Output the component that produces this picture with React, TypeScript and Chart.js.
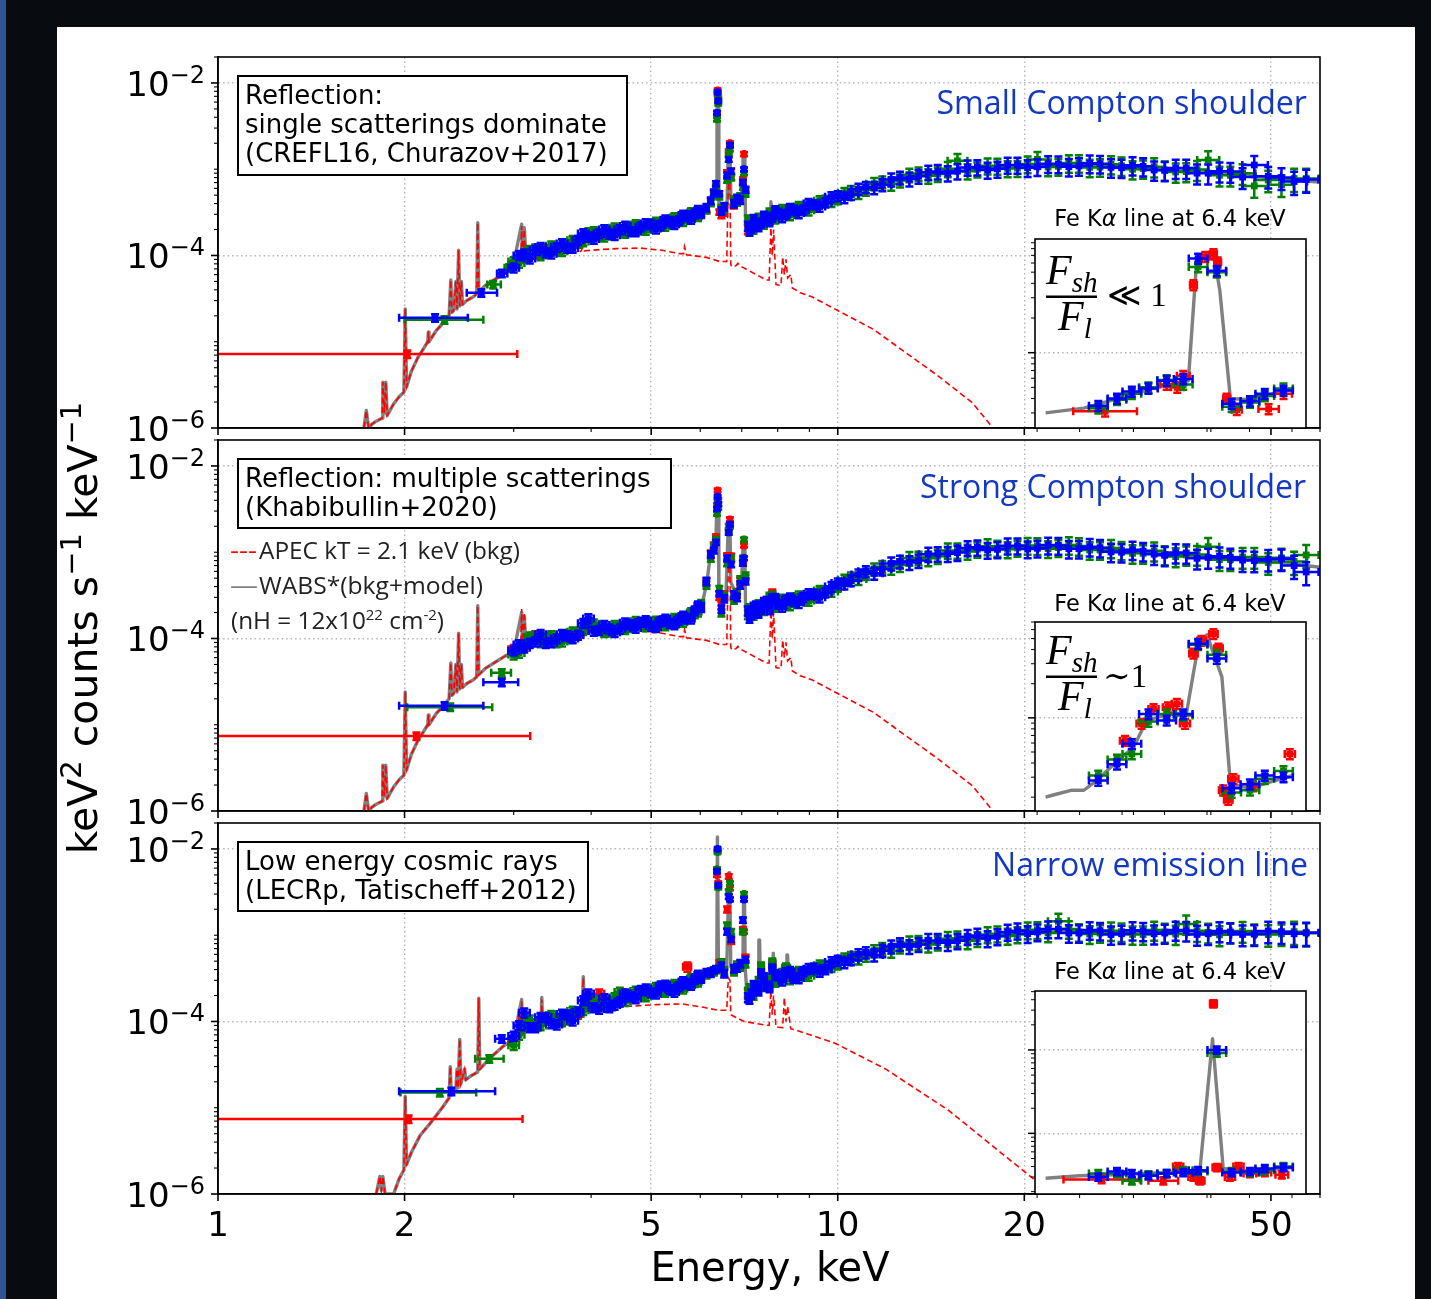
import React, { useEffect, useRef } from 'react';
import { Chart, registerables } from 'chart.js';

Chart.register(...registerables);

// ---------------- axis ticks ----------------
const X_LABELS = [1, 2, 5, 10, 20, 50];
const X_MINOR = [3, 4, 6, 7, 8, 9, 30, 40, 60];
const X_GRID = [2, 5, 10, 20, 50];
const Y_LABELS = [1e-2, 1e-4, 1e-6];
const Y_GRID = [1e-2, 1e-4];
const X_MIN = 1, X_MAX = 60, Y_MIN = 1e-6, Y_MAX = 0.02;
const INSET_X_TICKS = [6.0, 6.1, 6.2, 6.3, 6.4, 6.5, 6.6];
const INSET_XMIN = 5.995, INSET_XMAX = 6.633;

// all spectral values below are in units of 1e-4 keV^2 counts s^-1 keV^-1
const U = 1e-4;

// ---------------- binned data (continuum grid, keV) ----------------
const CE = [3.0, 3.12, 3.25, 3.38, 3.52, 3.66, 3.81, 3.96, 4.12, 4.28,
  4.45, 4.63, 4.81, 5.0, 5.18, 5.36, 5.54, 5.72, 5.88, 6.02,
  6.14, 6.24, 6.31, 6.36, 6.385, 6.40, 6.415, 6.44, 6.49, 6.56,
  6.63, 6.67, 6.70, 6.73, 6.80, 6.88, 6.96, 7.03, 7.06, 7.10,
  7.16, 7.25, 7.38, 7.52, 7.68, 7.84, 8.02, 8.25, 8.5, 8.8,
  9.15, 9.55, 10.0, 10.5, 11.1, 11.8, 12.6, 13.5, 14.5, 15.6,
  16.8, 18.1, 19.5, 21.0, 22.7, 24.5, 26.5, 28.7, 31.1, 33.7,
  36.5, 39.6, 43.0, 47.0, 52.0, 57.0];
const REL = [0.12, 0.12, 0.12, 0.12, 0.12, 0.12, 0.12, 0.12, 0.12, 0.12,
  0.12, 0.12, 0.12, 0.12, 0.12, 0.12, 0.12, 0.12, 0.12, 0.12,
  0.10, 0.09, 0.08, 0.07, 0.05, 0.04, 0.05, 0.07, 0.10, 0.10,
  0.08, 0.06, 0.05, 0.07, 0.10, 0.10, 0.10, 0.07, 0.05, 0.08,
  0.12, 0.12, 0.12, 0.12, 0.12, 0.12, 0.12, 0.12, 0.12, 0.12,
  0.12, 0.12, 0.13, 0.14, 0.15, 0.16, 0.17, 0.18, 0.19, 0.20,
  0.20, 0.21, 0.21, 0.22, 0.22, 0.23, 0.23, 0.24, 0.24, 0.25,
  0.25, 0.26, 0.26, 0.27, 0.28, 0.30];
// interleaved bins (keV): 3-6 keV, 7.2-9.4 keV, 9.8-55 keV
const CE_MA = [3.06, 3.185, 3.315, 3.45, 3.59, 3.735, 3.885, 4.04, 4.2, 4.365, 4.54, 4.72, 4.9, 5.09, 5.27,
  5.45, 5.63, 5.8, 5.95];
const REL_MA = [0.12, 0.12, 0.12, 0.12, 0.12, 0.12, 0.12, 0.12, 0.12, 0.12, 0.12, 0.12, 0.12, 0.12, 0.12,
  0.12, 0.12, 0.12, 0.12];
const CE_MB = [7.205, 7.315, 7.45, 7.6, 7.76, 7.93, 8.135, 8.375, 8.65, 8.975, 9.35];
const REL_MB = [0.13, 0.13, 0.13, 0.13, 0.13, 0.13, 0.13, 0.13, 0.13, 0.13, 0.13];
const CE_HI = [9.77, 10.25, 10.8, 11.45, 12.2, 13.05, 14.0, 15.05, 16.2, 17.45, 18.8, 20.25,
  21.85, 23.6, 25.5, 27.6, 29.9, 32.4, 35.1, 38.0, 41.3, 45.0, 49.5, 54.5];
const REL_HI = [0.13, 0.14, 0.15, 0.16, 0.17, 0.18, 0.19, 0.20, 0.20, 0.21, 0.21, 0.22,
  0.22, 0.23, 0.23, 0.24, 0.24, 0.25, 0.25, 0.26, 0.26, 0.27, 0.28, 0.30];
const LOW_REL = 0.1;

// Panel 1
const P1_BLUE = [0.72, 1.05, 1.15, 1.08, 1.25, 1.22, 1.50, 1.65, 1.80, 1.78,
  2.00, 1.90, 2.15, 2.30, 2.25, 2.50, 2.55, 2.90, 3.05, 3.10,
  3.60, 4.30, 5.40, 6.8, 45, 78, 62, 5.2, 3.3, 3.7,
  8.5, 13, 19, 9.5, 4.0, 4.6, 4.4, 7.0, 10, 5.8,
  2.2, 2.1, 2.4, 2.4, 2.8, 2.8, 3.1, 3.0, 3.4, 3.4,
  3.9, 4.1, 4.9, 5.1, 6.2, 6.6, 8.0, 8.3, 9.4, 9.5,
  10.6, 10.1, 11.2, 10.7, 11.5, 10.9, 11.6, 10.4, 10.8, 9.7,
  10.3, 9.0, 9.4, 11.2, 8.0, 7.6];
const P1_GREEN = [0.85, 0.95, 1.20, 1.12, 1.15, 1.35, 1.40, 1.85, 1.70, 1.92,
  1.88, 2.12, 2.02, 2.15, 2.40, 2.38, 2.70, 2.72, 2.90, 3.30,
  3.40, 4.10, 5.00, 6.2, 38, 74, 58, 4.8, 3.5, 3.5,
  7.6, 15, 17, 8.0, 4.4, 4.2, 4.8, 6.2, 9.0, 5.2,
  2.6, 2.3, 2.2, 2.6, 2.6, 3.0, 2.9, 3.2, 3.2, 3.6,
  3.7, 4.4, 4.5, 5.6, 5.8, 7.1, 7.4, 8.9, 8.8, 12.5,
  10.0, 10.9, 10.3, 13.0, 10.8, 11.8, 10.6, 11.0, 10.2, 9.8,
  9.4, 12.8, 8.5, 6.4, 6.6, 7.8];
const P1_RED = [0.78, 1.02, 1.05, 1.18, 1.22, 1.28, 1.48, 1.70, 1.76, 1.82,
  1.98, 2.08, 2.05, 2.25, 2.28, 2.42, 2.65, 2.78, 3.05, 3.15,
  3.45, 4.25, 5.30, 6.0, 42, 82, 66, 3.2, 3.0, 3.2,
  9.0, 16, 20, 8.0, 3.9, 4.3, 4.5, 7.5, 15, 5.6,
  2.0, 2.2, 2.3, 2.5, 2.7, 2.8, 3.1, 3.0, 3.3, 3.6,
  3.7, 4.3, 4.6];
const P1_BLUE_MA = [1.0, 0.92, 1.25, 1.05, 1.38, 1.22, 1.8, 1.55, 2.0, 1.72, 2.2, 1.9, 2.35, 2.05, 2.6,
  2.3, 2.95, 2.65, 3.35];
const P1_GREEN_MA = [0.82, 1.15, 1.0, 1.3, 1.12, 1.5, 1.45, 1.9, 1.65, 2.1, 1.82, 2.28, 1.98, 2.45, 2.2,
  2.75, 2.5, 3.15, 2.85];
const P1_BLUE_MB = [1.95, 2.6, 2.2, 2.85, 2.5, 3.3, 2.8, 3.5, 3.1, 4.0, 3.7];
const P1_GREEN_MB = [2.5, 2.05, 2.7, 2.35, 3.1, 2.7, 3.4, 2.95, 3.7, 3.35, 4.3];
const P1_BLUE_HI = [4.8, 4.7, 5.9, 6.1, 7.6, 7.7, 9.2, 9.0, 10.5, 9.8, 11.2, 10.4,
  11.6, 10.7, 11.7, 10.5, 11.1, 9.8, 10.3, 9.0, 9.5, 8.1, 8.3, 7.2];
const P1_GREEN_HI = [4.2, 5.3, 5.3, 6.8, 6.8, 8.6, 8.4, 10.1, 9.5, 11.0, 10.2, 11.5,
  10.6, 11.8, 10.5, 11.4, 10.0, 10.7, 9.3, 9.9, 8.5, 9.0, 7.5, 7.8];
// low-energy wide bins: [colour, E, Elo, Ehi, value]
const P1_LOW = [['r', 2.02, 0.9, 3.04, 0.072], ['g', 2.32, 2.0, 2.68, 0.18], ['b', 2.24, 1.96, 2.53, 0.19],
  ['b', 2.66, 2.52, 2.82, 0.37], ['g', 2.78, 2.72, 2.86, 0.46], ['b', 2.87, 2.82, 2.93, 0.62], ['g', 2.95, 2.90, 3.00, 0.72]];

// Panel 2
const P2_BLUE = [0.72, 0.78, 0.92, 0.88, 1.00, 1.08, 1.10, 1.70, 1.25, 1.30,
  1.30, 1.45, 1.55, 1.40, 1.58, 1.50, 1.65, 1.70, 2.10, 2.30,
  4.6, 9.4, 10.5, 13, 32, 44, 36, 3.3, 2.2, 2.9,
  8.5, 17, 21, 7.2, 3.2, 3.0, 4.2, 7.5, 8.5, 4.6,
  2.1, 1.9, 2.4, 2.2, 2.7, 2.9, 2.5, 2.8, 2.7, 3.0,
  3.3, 3.4, 4.4, 4.7, 6.0, 6.4, 7.8, 8.0, 9.6, 9.9,
  11.4, 10.8, 11.9, 11.1, 12.0, 11.0, 11.3, 10.0, 10.3, 9.2,
  9.8, 8.7, 8.7, 8.0, 8.4, 5.9];
const P2_GREEN = [0.65, 0.85, 1.05, 1.05, 0.90, 1.02, 1.20, 1.50, 1.35, 1.20,
  1.40, 1.35, 1.45, 1.52, 1.42, 1.60, 1.55, 1.80, 1.95, 2.50,
  4.2, 8.5, 11.5, 14, 28, 42, 33, 3.8, 2.0, 3.1,
  7.5, 18, 20, 8.5, 2.8, 3.4, 4.8, 8.5, 14, 5.4,
  1.9, 2.1, 2.0, 2.4, 2.5, 3.1, 2.7, 2.5, 2.9, 2.8,
  3.0, 3.6, 4.0, 5.1, 5.6, 6.8, 7.1, 8.6, 9.0, 10.5,
  10.8, 11.2, 11.2, 11.9, 11.3, 11.8, 10.6, 10.6, 9.7, 9.4,
  9.3, 11.6, 8.2, 8.8, 8.6, 9.3];
const P2_RED = [0.75, 0.82, 1.08, 1.02, 0.98, 1.10, 1.12, 1.50, 1.28, 1.22,
  1.38, 1.42, 1.48, 1.48, 1.55, 1.58, 1.62, 1.72, 2.05, 2.35,
  4.5, 9.6, 12, 15, 35, 52, 40, 3.0, 2.4, 3.2,
  9.0, 20, 24, 9.0, 3.1, 3.3, 4.6, 8.0, 12, 5.0,
  2.1, 2.0, 2.3, 2.3, 2.7, 3.3, 2.6, 2.7, 2.8, 2.9,
  3.2, 3.5, 4.1];
const P2_BLUE_MA = [0.85, 0.88, 1.12, 0.9, 1.12, 1.0, 1.5, 1.22, 1.42, 1.18, 1.52, 1.32, 1.62, 1.35, 1.68,
  1.45, 1.82, 1.7, 2.4];
const P2_GREEN_MA = [0.68, 1.05, 0.9, 1.08, 0.92, 1.2, 1.25, 1.48, 1.18, 1.42, 1.28, 1.58, 1.38, 1.6, 1.42,
  1.72, 1.55, 2.0, 2.05];
const P2_BLUE_MB = [1.75, 2.3, 2.0, 2.6, 2.2, 2.9, 2.35, 2.95, 2.6, 3.3, 3.0];
const P2_GREEN_MB = [2.2, 1.9, 2.45, 2.15, 3.0, 2.35, 2.85, 2.45, 3.1, 2.75, 3.6];
const P2_BLUE_HI = [4.0, 4.3, 5.5, 5.7, 7.4, 7.6, 9.5, 9.6, 11.2, 10.6, 11.9, 10.9,
  12.1, 11.0, 11.6, 10.1, 10.7, 9.5, 9.9, 8.5, 9.0, 8.1, 8.3, 7.0];
const P2_GREEN_HI = [3.5, 4.8, 4.9, 6.4, 6.6, 8.5, 8.5, 10.5, 10.2, 11.7, 10.8, 12.0,
  11.0, 12.1, 10.6, 11.2, 9.7, 10.4, 8.9, 9.4, 8.2, 8.8, 7.6, 7.8];
const P2_LOW = [['r', 2.09, 0.9, 3.19, 0.074], ['b', 2.32, 1.96, 2.68, 0.166], ['g', 2.37, 2.02, 2.77, 0.16],
  ['b', 2.87, 2.68, 3.05, 0.31], ['g', 2.87, 2.76, 2.97, 0.40]];

// Panel 3
const P3_BLUE = [0.68, 1.26, 0.85, 1.12, 0.92, 1.20, 1.30, 2.10, 1.40, 1.45,
  1.70, 1.95, 2.30, 2.15, 2.60, 2.35, 2.55, 2.75, 3.10, 3.20,
  3.70, 3.60, 3.90, 4.10, 55, 100, 38, 4.0, 4.4, 3.6,
  11, 28, 26, 9, 4.1, 4.2, 4.7, 15, 26, 5.2,
  1.9, 2.1, 2.6, 3.6, 2.6, 4.1, 3.4, 3.7, 3.2, 3.8,
  4.2, 4.0, 5.1, 5.2, 6.3, 6.6, 7.9, 7.8, 8.7, 8.6,
  9.9, 9.7, 11.3, 10.9, 11.8, 10.6, 11.3, 10.4, 11.2, 10.6,
  11.3, 10.4, 10.9, 10.3, 11.0, 10.7];
const P3_GREEN = [0.53, 0.92, 0.95, 1.04, 1.08, 1.05, 1.26, 1.50, 1.62, 1.70,
  2.20, 1.90, 2.05, 2.30, 2.30, 2.50, 2.40, 2.90, 2.85, 3.40,
  3.50, 3.80, 3.70, 3.90, 58, 92, 36, 4.3, 4.8, 3.9,
  13, 32, 40, 11, 3.8, 4.5, 4.3, 11, 30, 4.6,
  2.2, 2.3, 2.4, 4.3, 2.9, 4.8, 3.0, 4.2, 3.6, 3.4,
  3.9, 4.5, 4.6, 5.6, 5.8, 7.0, 7.4, 8.3, 8.2, 9.2,
  9.1, 10.4, 10.2, 11.6, 14.5, 10.9, 10.6, 11.0, 10.2, 10.9,
  13.5, 10.8, 10.8, 10.5, 10.4, 10.6];
const P3_RED = [0.60, 1.05, 0.88, 1.10, 1.00, 1.15, 1.22, 1.70, 2.10, 1.55,
  1.85, 2.05, 2.15, 2.20, 2.40, 2.45, 2.50, 4.30, 3.00, 3.30,
  3.60, 3.80, 3.90, 4.00, 50, 95, 40, 4.8, 4.8, 3.7,
  20, 48, 35, 8.5, 4.0, 4.4, 4.5, 11.6, 11.0, 5.5,
  2.1, 2.3, 2.4, 3.8, 2.7, 4.6, 3.1, 4.0, 3.3, 3.5,
  3.9, 4.3, 4.8];
const P3_BLUE_MA = [0.9, 0.85, 1.12, 0.95, 1.22, 1.02, 1.75, 1.45, 1.85, 1.55, 2.1, 1.85, 2.4, 2.1, 2.65,
  2.2, 2.9, 2.65, 3.45];
const P3_GREEN_MA = [0.7, 1.05, 0.9, 1.18, 1.0, 1.32, 1.35, 1.78, 1.5, 1.9, 1.72, 2.25, 1.95, 2.5, 2.2,
  2.7, 2.4, 3.15, 2.9];
const P3_BLUE_MB = [1.85, 2.6, 2.3, 3.2, 2.5, 3.5, 3.0, 3.8, 3.2, 4.1, 3.8];
const P3_GREEN_MB = [2.4, 2.05, 2.9, 2.6, 3.1, 2.9, 3.6, 3.1, 3.8, 3.4, 4.5];
const P3_BLUE_HI = [4.9, 4.8, 6.0, 5.9, 7.4, 7.4, 8.7, 8.2, 9.6, 9.2, 10.9, 10.4,
  11.8, 10.6, 11.5, 10.2, 11.4, 10.4, 11.5, 10.2, 11.2, 10.2, 11.2, 10.4];
const P3_GREEN_HI = [4.3, 5.4, 5.4, 6.6, 6.6, 8.2, 7.8, 9.1, 8.6, 10.2, 9.8, 11.5,
  10.6, 11.8, 10.3, 11.3, 10.2, 11.5, 10.3, 11.3, 10.1, 11.2, 10.2, 11.0];
const P3_LOW = [['r', 2.03, 0.9, 3.10, 0.074], ['b', 2.38, 1.96, 2.80, 0.155], ['g', 2.28, 1.97, 2.61, 0.15],
  ['g', 2.74, 2.60, 2.89, 0.37], ['b', 2.87, 2.80, 2.96, 0.63]];

// ---------------- models ----------------
// APEC kT = 2.1 keV background (panels 1 & 2)
const APEC12_E = [1.70, 1.72, 1.735, 1.75, 1.77, 1.80, 1.84, 1.845, 1.855, 1.865, 1.875, 1.92, 1.96, 1.995, 2.005,
  2.015, 2.05, 2.10, 2.15, 2.18, 2.185, 2.19, 2.25, 2.30, 2.36, 2.375, 2.385, 2.40, 2.42, 2.43, 2.445, 2.455, 2.47,
  2.48, 2.52, 2.58, 2.615, 2.625, 2.635, 2.70, 2.80, 2.90, 3.00, 3.08, 3.09, 3.10, 3.12, 3.14, 3.22, 3.35, 3.50, 3.65,
  3.85, 3.88, 3.90, 4.13, 4.40, 4.79, 5.20, 5.56, 5.64, 5.66, 5.70, 6.14, 6.45, 6.62, 6.66, 6.70, 6.72, 6.74, 6.85,
  6.90, 6.95, 7.67, 7.75, 7.80, 7.84, 7.88, 7.95, 8.10, 8.15, 8.20, 8.25, 8.30, 8.40, 8.45, 8.70, 9.10, 10.0, 11.4,
  12.9, 14.6, 16.5, 17.8, 19.0, 21.0];
const APEC12_V = [0.008, 0.010, 0.016, 0.010, 0.011, 0.012, 0.013, 0.034, 0.015, 0.034, 0.014, 0.019, 0.023, 0.026, 0.24,
  0.03, 0.045, 0.065, 0.085, 0.10, 0.13, 0.10, 0.135, 0.16, 0.20, 0.52, 0.22, 0.23, 0.50, 0.24, 1.15, 0.26, 0.50,
  0.27, 0.30, 0.33, 0.36, 2.4, 0.38, 0.45, 0.53, 0.62, 0.72, 0.80, 2.2, 0.82, 2.0, 0.85, 0.90, 0.97, 1.03, 1.07,
  1.12, 1.25, 1.13, 1.17, 1.20, 1.22, 1.15, 1.05, 1.05, 1.26, 1.02, 0.95, 0.85, 0.85, 6.9, 6.9, 0.80, 0.74, 0.76,
  0.81, 0.76, 0.52, 0.52, 2.1, 1.0, 2.0, 0.46, 0.45, 0.96, 0.6, 0.9, 0.55, 0.6, 0.42, 0.37, 0.33, 0.23, 0.14,
  0.074, 0.039, 0.0195, 0.010, 0.005, 0.002];
// APEC background (panel 3)
const APEC3_E = [1.78, 1.80, 1.825, 1.835, 1.845, 1.86, 1.92, 1.96, 1.995, 2.005, 2.015, 2.05, 2.12, 2.20, 2.30, 2.36,
  2.37, 2.38, 2.42, 2.43, 2.44, 2.455, 2.465, 2.50, 2.51, 2.55, 2.625, 2.635, 2.645, 2.75, 2.88, 3.00, 3.08, 3.09,
  3.10, 3.20, 3.32, 3.33, 3.34, 3.60, 3.87, 3.885, 3.90, 4.20, 4.60, 5.10, 5.62, 6.10, 6.40, 6.62, 6.66, 6.70, 6.72,
  7.06, 7.64, 7.75, 7.80, 7.84, 7.88, 7.95, 8.15, 8.20, 8.25, 8.30, 8.40, 8.54, 9.9, 11.96, 15.1, 20.8, 23.0];
const APEC3_V = [0.008, 0.010, 0.016, 0.011, 0.016, 0.010, 0.010, 0.015, 0.019, 0.135, 0.022, 0.030, 0.048, 0.066, 0.10,
  0.13, 0.30, 0.14, 0.16, 0.28, 0.17, 0.62, 0.19, 0.28, 0.21, 0.23, 0.26, 1.86, 0.28, 0.38, 0.51, 0.62, 0.72, 1.7,
  0.74, 0.82, 0.90, 1.8, 0.92, 1.10, 1.25, 3.2, 1.28, 1.40, 1.50, 1.57, 1.60, 1.45, 1.35, 1.35, 3.2, 3.0, 1.2, 1.0,
  0.91, 0.9, 2.3, 1.2, 2.0, 0.86, 0.85, 1.9, 1.0, 1.5, 0.82, 0.80, 0.56, 0.28, 0.093, 0.0145, 0.006];
// WABS*(bkg+model), above 3 keV (below it the bkg dominates)
const MODEL1_E = [3.00, 3.09, 3.10, 3.12, 3.14, 3.30, 3.50, 3.70, 3.87, 3.885, 3.90, 4.10, 4.40, 4.80, 5.20, 5.60, 5.90,
  6.10, 6.25, 6.33, 6.37, 6.385, 6.415, 6.43, 6.55, 6.63, 6.66, 6.70, 6.72, 6.85, 7.00, 7.04, 7.08, 7.10, 7.25, 7.50,
  7.78, 7.80, 7.84, 8.20, 8.30, 8.40, 9.0, 10.0, 11.0, 12.0, 13.0, 14.0, 15.0, 16.5, 18.0, 20.0, 23.0, 26.0, 30.0,
  35.0, 40.0, 45.0, 50.0, 55.0, 60.0];
const MODEL1_V = [0.82, 2.3, 0.92, 2.1, 0.98, 1.10, 1.20, 1.30, 1.45, 1.85, 1.50, 1.65, 1.90, 2.10, 2.30, 2.65, 3.00,
  3.40, 4.0, 5.3, 6.0, 75, 75, 3.6, 3.4, 4.0, 21, 21, 5.0, 4.2, 4.5, 15, 15, 2.4, 2.3, 2.5,
  2.9, 4.2, 3.0, 3.1, 3.4, 3.2, 3.6, 4.7, 5.9, 7.0, 8.1, 8.8, 9.4, 10.0, 10.5, 10.8, 11.1, 11.1, 10.6,
  9.9, 9.1, 8.5, 7.9, 7.4, 7.1];
const MODEL2_E = [3.00, 3.09, 3.10, 3.12, 3.14, 3.30, 3.50, 3.70, 3.87, 3.885, 3.90, 4.10, 4.40, 4.80, 5.20, 5.60, 5.90,
  6.05, 6.15, 6.22, 6.30, 6.36, 6.385, 6.415, 6.43, 6.50, 6.60, 6.66, 6.70, 6.72, 6.85, 7.00, 7.04, 7.08, 7.10, 7.25,
  7.50, 7.76, 7.80, 7.84, 8.30, 9.10, 10.0, 10.7, 11.5, 12.6, 13.6, 14.8, 16.0, 17.4, 20.4, 24.0, 28.0, 33.0, 39.0,
  45.6, 52.0, 60.0];
const MODEL2_V = [0.70, 2.0, 0.80, 1.8, 0.85, 0.95, 1.00, 1.08, 1.15, 1.6, 1.18, 1.25, 1.35, 1.45, 1.52, 1.65, 2.0,
  2.6, 4.5, 8.5, 11.5, 14, 42, 42, 3.0, 2.3, 3.0, 22, 22, 4.5, 3.3, 5.0, 14, 14, 2.2, 2.0,
  2.3, 2.6, 3.4, 2.7, 2.7, 3.0, 4.0, 5.1, 6.2, 7.5, 8.6, 9.8, 10.6, 11.1, 11.4, 11.4, 10.5, 9.8, 8.9,
  8.4, 7.6, 6.7];
const MODEL3_E = [3.00, 3.09, 3.10, 3.32, 3.33, 3.34, 3.60, 3.87, 3.885, 3.90, 4.20, 4.60, 5.00, 5.40, 5.80, 6.10, 6.38,
  6.395, 6.405, 6.42, 6.62, 6.675, 6.695, 6.72, 7.03, 7.05, 7.07, 7.09, 7.14, 7.44, 7.46, 7.48, 7.50, 7.85, 7.87, 7.89,
  7.91, 8.26, 8.28, 8.30, 8.32, 9.10, 10.0, 10.7, 11.5, 12.6, 14.8, 17.4, 20.4, 24.0, 30.0, 40.0, 50.0, 60.0];
const MODEL3_V = [0.62, 1.8, 0.74, 0.92, 1.9, 0.95, 1.15, 1.35, 3.3, 1.40, 1.60, 1.85, 2.10, 2.35, 2.75, 3.2, 3.6,
  138, 138, 3.7, 4.0, 53, 53, 4.3, 4.4, 32, 32, 4.2, 2.0, 2.5, 8.8, 8.8, 2.6, 3.0, 6.2, 6.2,
  3.1, 3.4, 5.9, 5.9, 3.5, 4.0, 4.8, 5.6, 6.4, 7.5, 8.6, 9.7, 10.8, 11.0, 10.8, 10.7, 10.7, 10.7];

// ---------------- insets (Fe K-alpha zoom, arbitrary units) ----------------
const INSET_E = [6.144, 6.188, 6.223, 6.262, 6.305, 6.344, 6.379, 6.423, 6.458, 6.501, 6.536, 6.58];
const INSET_XERR = 0.022;
const INSET_REL = 0.1;
const I1_BLUE = [0.347, 0.40, 0.46, 0.49, 0.57, 0.59, 6.56, 5.13, 0.36, 0.38, 0.44, 0.47];
const I1_GREEN = [0.33, 0.39, 0.44, 0.50, 0.58, 0.53, 5.55, 5.0, 0.34, 0.37, 0.42, 0.49];
const I1_RED_E = [6.16, 6.305, 6.33, 6.344, 6.368, 6.396, 6.415, 6.425, 6.446, 6.47, 6.545, 6.58];
const I1_RED = [0.31, 0.53, 0.50, 0.63, 3.87, 6.8, 7.2, 6.1, 0.40, 0.32, 0.325, 0.44];
const I1_RED_XE = [0.075, 0.015, 0.015, 0.015, 0.008, 0.008, 0.008, 0.008, 0.008, 0.012, 0.024, 0.02];
const I1_MODEL_E = [6.02, 6.11, 6.2, 6.28, 6.356, 6.376, 6.40, 6.418, 6.43, 6.455, 6.5, 6.6];
const I1_MODEL = [0.30, 0.33, 0.41, 0.5, 0.57, 6.6, 6.9, 6.3, 3.5, 0.40, 0.39, 0.48];

const I2_BLUE = [0.28, 0.39, 0.59, 1.08, 0.95, 1.08, 4.5, 3.33, 0.24, 0.26, 0.31, 0.30];
const I2_GREEN = [0.31, 0.43, 0.48, 0.93, 1.08, 1.05, 4.4, 3.6, 0.22, 0.23, 0.29, 0.34];
const I2_RED_E = [6.207, 6.246, 6.274, 6.308, 6.329, 6.348, 6.368, 6.387, 6.415, 6.427, 6.438, 6.45, 6.462, 6.509, 6.595];
const I2_RED = [0.63, 0.89, 1.2, 1.24, 1.33, 0.89, 3.7, 4.8, 5.5, 4.1, 0.23, 0.19, 0.29, 0.25, 0.48];
const I2_RED_XE = [0.012, 0.012, 0.012, 0.012, 0.012, 0.012, 0.01, 0.01, 0.01, 0.01, 0.01, 0.01, 0.012, 0.012, 0.012];
const I2_MODEL_E = [6.02, 6.04, 6.08, 6.11, 6.14, 6.187, 6.227, 6.258, 6.30, 6.352, 6.38, 6.40, 6.41, 6.435, 6.455, 6.5, 6.6];
const I2_MODEL = [0.20, 0.21, 0.23, 0.23, 0.28, 0.41, 0.55, 0.95, 1.05, 1.12, 4.5, 5.4, 4.2, 2.3, 0.26, 0.24, 0.31];

const I3_BLUE = [0.30, 0.35, 0.33, 0.31, 0.33, 0.34, 0.36, 10, 0.34, 0.35, 0.38, 0.39];
const I3_GREEN = [0.33, 0.33, 0.27, 0.32, 0.33, 0.36, 0.35, 9.2, 0.35, 0.34, 0.36, 0.40];
const I3_RED_E = [6.152, 6.297, 6.332, 6.368, 6.384, 6.415, 6.423, 6.454, 6.474, 6.501, 6.536, 6.576];
const I3_RED = [0.28, 0.27, 0.40, 0.30, 0.27, 35.8, 0.39, 0.30, 0.40, 0.33, 0.34, 0.32];
const I3_RED_XE = [0.09, 0.035, 0.012, 0.012, 0.01, 0.008, 0.01, 0.012, 0.012, 0.015, 0.015, 0.015];
const I3_MODEL_E = [6.02, 6.1, 6.2, 6.3, 6.383, 6.413, 6.438, 6.5, 6.6];
const I3_MODEL = [0.29, 0.31, 0.32, 0.34, 0.35, 13.6, 0.38, 0.35, 0.39];

// ---------------- texts ----------------
const BOX1_LINES = ['Reflection:', 'single scatterings dominate', '(CREFL16, Churazov+2017)'];
const BOX2_LINES = ['Reflection: multiple scatterings', '(Khabibullin+2020)'];
const BOX3_LINES = ['Low energy cosmic rays', '(LECRp, Tatischeff+2012)'];
const TITLES = ['Small Compton shoulder', 'Strong Compton shoulder', 'Narrow emission line'];

// ---------------- style ----------------
const COLORS: any = { r: '#ff0000', g: '#008000', b: '#0000ff' };
const GRID_COLOR = '#b4b4b4';
const MODEL_COLOR = '#808080';
const TITLE_BLUE = '#1238c4';
const DV = '"DejaVu Sans", sans-serif';
const OS = '"Open Sans", sans-serif';
const SERIF = '"Liberation Serif", "DejaVu Serif", serif';
const X_LEFT = 218, X_RIGHT = 1320;

// ---------------- helpers ----------------
function near(v: number, list: number[]) {
  return list.some((g) => Math.abs(Math.log10(v) - Math.log10(g)) < 1e-6);
}
function logTicks(min: number, max: number) {
  const out: number[] = [];
  for (let n = Math.floor(Math.log10(min)); n <= Math.ceil(Math.log10(max)); n++) {
    for (let k = 1; k <= 9; k++) {
      const v = k * Math.pow(10, n);
      if (v >= min * 0.9999 && v <= max * 1.0001) out.push(v);
    }
  }
  return out;
}
function binEdges(e: number[]) {
  const lo: number[] = [], hi: number[] = [];
  for (let i = 0; i < e.length; i++) {
    const l = i > 0 ? Math.sqrt(e[i - 1] * e[i]) : (e[0] * e[0]) / Math.sqrt(e[0] * e[1]);
    const h = i < e.length - 1 ? Math.sqrt(e[i] * e[i + 1]) : (e[i] * e[i]) / Math.sqrt(e[i - 1] * e[i]);
    lo.push(l);
    hi.push(h);
  }
  return { lo, hi };
}
function gridPoints(E: number[], R: number[], vals: number[]) {
  const { lo, hi } = binEdges(E);
  return vals.map((v, i) => ({
    x: E[i], y: v * U, xl: lo[i], xh: hi[i], yl: v * U * (1 - R[i]), yh: v * U * (1 + R[i]),
  }));
}
function lowPoints(low: any[], c: string) {
  return low.filter((r) => r[0] === c).map((r) => ({
    x: r[1], y: r[4] * U, xl: r[2], xh: r[3], yl: r[4] * U * (1 - LOW_REL), yh: r[4] * U * (1 + LOW_REL),
  }));
}
function linePoints(E: number[], V: number[], scale = 1) {
  return E.map((e, i) => ({ x: e, y: V[i] * scale }));
}

const errorBarPlugin = {
  id: 'errorBars',
  beforeDatasetDraw(chart: any, args: any) {
    const ds = chart.data.datasets[args.index];
    if (!ds.errorBars) return;
    const { ctx, chartArea: a } = chart;
    const xs = chart.scales.x, ys = chart.scales.y;
    ctx.save();
    ctx.beginPath();
    ctx.rect(a.left, a.top, a.right - a.left, a.bottom - a.top);
    ctx.clip();
    ctx.strokeStyle = ds.ebColor;
    ctx.lineWidth = 2.5;
    const cap = 4;
    ctx.beginPath();
    for (const p of ds.data) {
      const px = xs.getPixelForValue(p.x), py = ys.getPixelForValue(p.y);
      const x0 = xs.getPixelForValue(p.xl), x1 = xs.getPixelForValue(p.xh);
      const y0 = ys.getPixelForValue(p.yl), y1 = ys.getPixelForValue(p.yh);
      ctx.moveTo(x0, py); ctx.lineTo(x1, py);
      ctx.moveTo(px, y0); ctx.lineTo(px, y1);
      ctx.moveTo(x0, py - cap); ctx.lineTo(x0, py + cap);
      ctx.moveTo(x1, py - cap); ctx.lineTo(x1, py + cap);
      ctx.moveTo(px - cap, y0); ctx.lineTo(px + cap, y0);
      ctx.moveTo(px - cap, y1); ctx.lineTo(px + cap, y1);
    }
    ctx.stroke();
    ctx.restore();
  },
};

function pointSet(data: any[], c: string, order: number) {
  return {
    data, errorBars: true, ebColor: COLORS[c], order,
    pointStyle: 'rect', pointRadius: 4.8, pointBorderWidth: 0,
    pointBackgroundColor: COLORS[c], borderColor: COLORS[c], showLine: false,
  };
}

// ---------------- main panel ----------------
function mainDeco(showXLabels: boolean) {
  return {
    id: 'mainDeco',
    afterDatasetsDraw(chart: any) {
      const { ctx, chartArea: a } = chart;
      const xs = chart.scales.x, ys = chart.scales.y;
      ctx.save();
      ctx.strokeStyle = '#000';
      for (const t of xs.ticks) {
        const px = xs.getPixelForValue(t.value);
        const maj = near(t.value, X_LABELS);
        ctx.lineWidth = maj ? 1.6 : 1.1;
        ctx.beginPath();
        ctx.moveTo(px, a.bottom);
        ctx.lineTo(px, a.bottom + (maj ? 7 : 4));
        ctx.stroke();
      }
      for (const t of ys.ticks) {
        const py = ys.getPixelForValue(t.value);
        const maj = near(t.value, Y_LABELS);
        ctx.lineWidth = maj ? 1.6 : 1.1;
        ctx.beginPath();
        ctx.moveTo(a.left - (maj ? 7 : 4), py);
        ctx.lineTo(a.left, py);
        ctx.stroke();
      }
      ctx.lineWidth = 1.6;
      ctx.strokeRect(a.left, a.top, a.right - a.left, a.bottom - a.top);
      ctx.fillStyle = '#000';
      ctx.textBaseline = 'alphabetic';
      ctx.textAlign = 'left';
      for (const v of Y_LABELS) {
        const py = ys.getPixelForValue(v);
        const es = '\u2212' + Math.abs(Math.round(Math.log10(v)));
        ctx.font = '24px "DejaVu Sans"';
        const ew = ctx.measureText(es).width;
        ctx.font = '34px "DejaVu Sans"';
        const bw = ctx.measureText('10').width;
        const right = a.left - 13;
        ctx.fillText('10', right - ew - bw, py + 13);
        ctx.font = '24px "DejaVu Sans"';
        ctx.fillText(es, right - ew, py);
      }
      if (showXLabels) {
        ctx.textAlign = 'center';
        ctx.font = '34px "DejaVu Sans"';
        for (const v of X_LABELS) ctx.fillText(String(v), xs.getPixelForValue(v), a.bottom + 42);
      }
      ctx.restore();
    },
  };
}

const PANELS = [
  { top: 57, bottom: 428, blue: P1_BLUE, green: P1_GREEN, red: P1_RED,
    blueMA: P1_BLUE_MA, greenMA: P1_GREEN_MA, blueMB: P1_BLUE_MB, greenMB: P1_GREEN_MB,
    blueHi: P1_BLUE_HI, greenHi: P1_GREEN_HI,
    low: P1_LOW, apecE: APEC12_E, apecV: APEC12_V, modelE: MODEL1_E, modelV: MODEL1_V, xLabels: false },
  { top: 440, bottom: 811, blue: P2_BLUE, green: P2_GREEN, red: P2_RED,
    blueMA: P2_BLUE_MA, greenMA: P2_GREEN_MA, blueMB: P2_BLUE_MB, greenMB: P2_GREEN_MB,
    blueHi: P2_BLUE_HI, greenHi: P2_GREEN_HI,
    low: P2_LOW, apecE: APEC12_E, apecV: APEC12_V, modelE: MODEL2_E, modelV: MODEL2_V, xLabels: false },
  { top: 823, bottom: 1194, blue: P3_BLUE, green: P3_GREEN, red: P3_RED,
    blueMA: P3_BLUE_MA, greenMA: P3_GREEN_MA, blueMB: P3_BLUE_MB, greenMB: P3_GREEN_MB,
    blueHi: P3_BLUE_HI, greenHi: P3_GREEN_HI,
    low: P3_LOW, apecE: APEC3_E, apecV: APEC3_V, modelE: MODEL3_E, modelV: MODEL3_V, xLabels: true },
];

function MainPanel({ cfg }: any) {
  const ref = useRef<HTMLCanvasElement>(null);
  const CL = 100, CW = 1240, PT = 40;
  const extra = cfg.xLabels ? 70 : 40;
  const H = cfg.bottom - cfg.top + PT + extra;
  useEffect(() => {
    const apec = linePoints(cfg.apecE, cfg.apecV, U);
    const lowPart = linePoints(cfg.apecE, cfg.apecV, U).filter((p) => p.x < 3.0);
    const gray = [...lowPart, ...linePoints(cfg.modelE, cfg.modelV, U)];
    const xTicks = [...X_LABELS, ...X_MINOR].sort((a, b) => a - b);
    const yTicks = logTicks(Y_MIN, Y_MAX);
    const REL_R = REL.slice(0, cfg.red.length);
    const CE_R = CE.slice(0, cfg.red.length + 1);
    const chart = new Chart(ref.current as HTMLCanvasElement, {
      type: 'scatter',
      data: {
        datasets: [
          { data: gray, showLine: true, borderColor: MODEL_COLOR, borderWidth: 3.4, pointRadius: 0,
            borderJoinStyle: 'round', order: 5 },
          { data: apec, showLine: true, borderColor: '#ff0000', borderWidth: 1.6, borderDash: [6, 3.5],
            pointRadius: 0, order: 4 },
          pointSet([...lowPoints(cfg.low, 'r'), ...gridPoints(CE_R, REL_R, cfg.red)], 'r', 3),
          pointSet([...lowPoints(cfg.low, 'g'), ...gridPoints(CE, REL, cfg.green),
            ...gridPoints(CE_MA, REL_MA, cfg.greenMA), ...gridPoints(CE_MB, REL_MB, cfg.greenMB),
            ...gridPoints(CE_HI, REL_HI, cfg.greenHi)], 'g', 2),
          pointSet([...lowPoints(cfg.low, 'b'), ...gridPoints(CE, REL, cfg.blue),
            ...gridPoints(CE_MA, REL_MA, cfg.blueMA), ...gridPoints(CE_MB, REL_MB, cfg.blueMB),
            ...gridPoints(CE_HI, REL_HI, cfg.blueHi)], 'b', 1),
        ] as any,
      },
      options: {
        responsive: false, animation: false, devicePixelRatio: 1, events: [],
        layout: { padding: { left: 0, top: PT, right: CW - (X_RIGHT - CL), bottom: extra - 10 } },
        plugins: { legend: { display: false }, tooltip: { enabled: false } },
        scales: {
          x: {
            type: 'logarithmic', min: X_MIN, max: X_MAX,
            afterBuildTicks: (s: any) => { s.ticks = xTicks.map((v) => ({ value: v })); },
            afterFit: (s: any) => { s.height = 10; },
            ticks: { display: false },
            grid: { drawTicks: false, lineWidth: 1.4,
              color: (c: any) => (c.tick && near(c.tick.value, X_GRID) ? GRID_COLOR : 'rgba(0,0,0,0)') },
            border: { display: true, color: '#000', width: 1.6, dash: [1.5, 3] },
          },
          y: {
            type: 'logarithmic', min: Y_MIN, max: Y_MAX,
            afterBuildTicks: (s: any) => { s.ticks = yTicks.map((v) => ({ value: v })); },
            afterFit: (s: any) => { s.width = X_LEFT - CL; },
            ticks: { display: false },
            grid: { drawTicks: false, lineWidth: 1.4,
              color: (c: any) => (c.tick && near(c.tick.value, Y_GRID) ? GRID_COLOR : 'rgba(0,0,0,0)') },
            border: { display: true, color: '#000', width: 1.6, dash: [1.5, 3] },
          },
        },
      } as any,
      plugins: [errorBarPlugin, mainDeco(cfg.xLabels)],
    });
    return () => chart.destroy();
  }, []);
  return (
    <canvas ref={ref} width={CW} height={H}
      style={{ position: 'absolute', left: CL, top: cfg.top - PT, width: CW, height: H }} />
  );
}

// ---------------- insets ----------------
const INSETS = [
  { top: 239, bottom: 428, ymin: 0.222, ymax: 9.7, grid: [1], blue: I1_BLUE, green: I1_GREEN,
    redE: I1_RED_E, red: I1_RED, redXE: I1_RED_XE, modelE: I1_MODEL_E, model: I1_MODEL },
  { top: 622, bottom: 811, ymin: 0.151, ymax: 7.0, grid: [1], blue: I2_BLUE, green: I2_GREEN,
    redE: I2_RED_E, red: I2_RED, redXE: I2_RED_XE, modelE: I2_MODEL_E, model: I2_MODEL },
  { top: 991, bottom: 1194, ymin: 0.1875, ymax: 50.9, grid: [1, 10], blue: I3_BLUE, green: I3_GREEN,
    redE: I3_RED_E, red: I3_RED, redXE: I3_RED_XE, modelE: I3_MODEL_E, model: I3_MODEL },
];

const insetDeco = {
  id: 'insetDeco',
  beforeDraw(chart: any) {
    const { ctx, chartArea: a } = chart;
    ctx.save();
    ctx.fillStyle = '#fff';
    ctx.fillRect(a.left, a.top, a.right - a.left, a.bottom - a.top);
    ctx.restore();
  },
  afterDatasetsDraw(chart: any) {
    const { ctx, chartArea: a } = chart;
    const xs = chart.scales.x, ys = chart.scales.y;
    ctx.save();
    ctx.strokeStyle = '#000';
    for (const t of ys.ticks) {
      const py = ys.getPixelForValue(t.value);
      const maj = Math.abs(Math.log10(t.value) - Math.round(Math.log10(t.value))) < 1e-6;
      ctx.lineWidth = maj ? 1.5 : 1;
      ctx.beginPath();
      ctx.moveTo(a.left - (maj ? 7 : 4), py);
      ctx.lineTo(a.left, py);
      ctx.stroke();
    }
    for (const t of xs.ticks) {
      const px = xs.getPixelForValue(t.value);
      ctx.lineWidth = 1;
      ctx.beginPath();
      ctx.moveTo(px, a.bottom);
      ctx.lineTo(px, a.bottom + 4);
      ctx.stroke();
    }
    ctx.lineWidth = 1.6;
    ctx.strokeRect(a.left, a.top, a.right - a.left, a.bottom - a.top);
    ctx.restore();
  },
};

function insetPoints(E: number[], V: number[], XE: number[] | null) {
  return E.map((e, i) => {
    const xe = XE ? XE[i] : INSET_XERR;
    return { x: e, y: V[i], xl: e - xe, xh: e + xe, yl: V[i] * (1 - INSET_REL), yh: V[i] * (1 + INSET_REL) };
  });
}

function Inset({ cfg }: any) {
  const ref = useRef<HTMLCanvasElement>(null);
  const CL = 1010, CW = 305, PT = 6, PB = 16;
  const H = cfg.bottom - cfg.top + PT + PB;
  useEffect(() => {
    const yTicks = logTicks(cfg.ymin, cfg.ymax);
    const chart = new Chart(ref.current as HTMLCanvasElement, {
      type: 'scatter',
      data: {
        datasets: [
          { data: linePoints(cfg.modelE, cfg.model), showLine: true, borderColor: MODEL_COLOR, borderWidth: 3.4,
            pointRadius: 0, borderJoinStyle: 'round', order: 5 },
          pointSet(insetPoints(cfg.redE, cfg.red, cfg.redXE), 'r', 3),
          pointSet(insetPoints(INSET_E, cfg.green, null), 'g', 2),
          pointSet(insetPoints(INSET_E, cfg.blue, null), 'b', 1),
        ] as any,
      },
      options: {
        responsive: false, animation: false, devicePixelRatio: 1, events: [],
        layout: { padding: { left: 0, top: PT, right: CW - (1306 - CL), bottom: PB - 10 } },
        plugins: { legend: { display: false }, tooltip: { enabled: false } },
        scales: {
          x: {
            type: 'linear', min: INSET_XMIN, max: INSET_XMAX,
            afterBuildTicks: (s: any) => { s.ticks = INSET_X_TICKS.map((v) => ({ value: v })); },
            afterFit: (s: any) => { s.height = 10; },
            ticks: { display: false }, grid: { display: false }, border: { display: false },
          },
          y: {
            type: 'logarithmic', min: cfg.ymin, max: cfg.ymax,
            afterBuildTicks: (s: any) => { s.ticks = yTicks.map((v) => ({ value: v })); },
            afterFit: (s: any) => { s.width = 1035 - CL; },
            ticks: { display: false },
            grid: { drawTicks: false, lineWidth: 1.4,
              color: (c: any) => (c.tick && near(c.tick.value, cfg.grid) ? GRID_COLOR : 'rgba(0,0,0,0)') },
            border: { display: false, dash: [1.5, 3] },
          },
        },
      } as any,
      plugins: [insetDeco, errorBarPlugin],
    });
    return () => chart.destroy();
  }, []);
  return (
    <canvas ref={ref} width={CW} height={H}
      style={{ position: 'absolute', left: CL, top: cfg.top - PT, width: CW, height: H }} />
  );
}

// ---------------- text overlay ----------------
const BOXES = [
  { x: 237, y: 75, w: 391, h: 101, base: 104, lines: BOX1_LINES },
  { x: 237, y: 458, w: 435, h: 71, base: 487, lines: BOX2_LINES },
  { x: 237, y: 841, w: 352, h: 71, base: 870, lines: BOX3_LINES },
];
const TITLE_POS = [
  { x1: 936.5, x2: 1307, base: 113.5 },
  { x1: 920, x2: 1306, base: 497.5 },
  { x1: 992, x2: 1308, base: 875.5 },
];
const INSET_TITLE_BASE = [226.2, 610.7, 979];

function Fraction({ bar, rel, relX, relBase }: any) {
  return (
    <g fontFamily={SERIF} fill="#000">
      <text x={1046} y={bar - 13} fontSize={42} fontStyle="italic">F<tspan dy={8} fontSize={29}>sh</tspan></text>
      <line x1={1046} x2={1097} y1={bar} y2={bar} stroke="#000" strokeWidth={2.5} />
      <text x={1058} y={bar + 33} fontSize={42} fontStyle="italic">F<tspan dy={8} fontSize={29}>l</tspan></text>
      <text x={relX} y={relBase} fontSize={33}>{rel}</text>
    </g>
  );
}

function Overlay() {
  return (
    <svg width={1431} height={1299} style={{ position: 'absolute', left: 0, top: 0 }}>
      {BOXES.map((b, i) => (
        <g key={'b' + i}>
          <rect x={b.x + 1} y={b.y + 1} width={b.w - 2} height={b.h - 2} fill="#fff" stroke="#000" strokeWidth={2} />
          {b.lines.map((t, j) => (
            <text key={j} x={b.x + 8} y={b.base + j * 29} fontFamily={DV} fontSize={26} fill="#000">{t}</text>
          ))}
        </g>
      ))}
      {TITLES.map((t, i) => (
        <text key={'t' + i} x={TITLE_POS[i].x1} y={TITLE_POS[i].base} fontFamily={OS} fontSize={32} fill={TITLE_BLUE}
          textLength={TITLE_POS[i].x2 - TITLE_POS[i].x1} lengthAdjust="spacingAndGlyphs">{t}</text>
      ))}
      {INSET_TITLE_BASE.map((y, i) => (
        <text key={'i' + i} x={1170} y={y} textAnchor="middle" fontFamily={DV} fontSize={22.5} fill="#000">
          Fe K<tspan fontStyle="italic">α</tspan> line at 6.4 keV
        </text>
      ))}
      {/* legend of panel 2 */}
      <text x={230} y={558.7} fontFamily={OS} fontSize={24.3} fill="#ff0000" textLength={27}
        lengthAdjust="spacingAndGlyphs">---</text>
      <text x={259} y={558.7} fontFamily={OS} fontSize={24.3} fill="#222" textLength={261}
        lengthAdjust="spacingAndGlyphs">APEC kT = 2.1 keV (bkg)</text>
      <text x={230} y={593.7} fontFamily={OS} fontSize={24.3} fill={MODEL_COLOR} textLength={28}
        lengthAdjust="spacingAndGlyphs">—</text>
      <text x={259} y={593.7} fontFamily={OS} fontSize={24.3} fill="#222" textLength={224}
        lengthAdjust="spacingAndGlyphs">WABS*(bkg+model)</text>
      <text x={231} y={628.7} fontFamily={OS} fontSize={24.3} fill="#222">
        (nH = 12x10<tspan dy={-9} fontSize={15}>22</tspan><tspan dy={9}> cm</tspan>
        <tspan dy={-9} fontSize={15}>-2</tspan><tspan dy={9}>)</tspan>
      </text>
      <Fraction bar={296.7} rel="≪ 1" relX={1107} relBase={306} />
      <Fraction bar={676.7} rel="∼1" relX={1103} relBase={687} />
      {/* axis titles */}
      <text x={770} y={1281} textAnchor="middle" fontFamily={DV} fontSize={40} fill="#000">Energy, keV</text>
      <text transform="translate(97,628) rotate(-90)" textAnchor="middle" fontFamily={DV} fontSize={41} fill="#000">
        keV<tspan dy={-16} fontSize={29}>2</tspan><tspan dy={16}> counts s</tspan><tspan dy={-16} fontSize={29}>−1</tspan>
        <tspan dy={16}> keV</tspan><tspan dy={-16} fontSize={29}>−1</tspan>
      </text>
    </svg>
  );
}

export default function App() {
  useEffect(() => {
    document.documentElement.style.overflow = 'hidden';
  }, []);
  return (
    <div style={{ position: 'absolute', left: 0, top: 0, width: 1431, height: 1299, background: '#080b10', overflow: 'hidden' }}>
      <div style={{ position: 'absolute', left: 0, top: 0, width: 6, height: 1299, background: '#2f5597' }} />
      <div style={{ position: 'absolute', left: 57, top: 27, width: 1358, height: 1272, background: '#ffffff' }} />
      {PANELS.map((p, i) => <MainPanel key={'p' + i} cfg={p} />)}
      {INSETS.map((c, i) => <Inset key={'in' + i} cfg={c} />)}
      <Overlay />
    </div>
  );
}
